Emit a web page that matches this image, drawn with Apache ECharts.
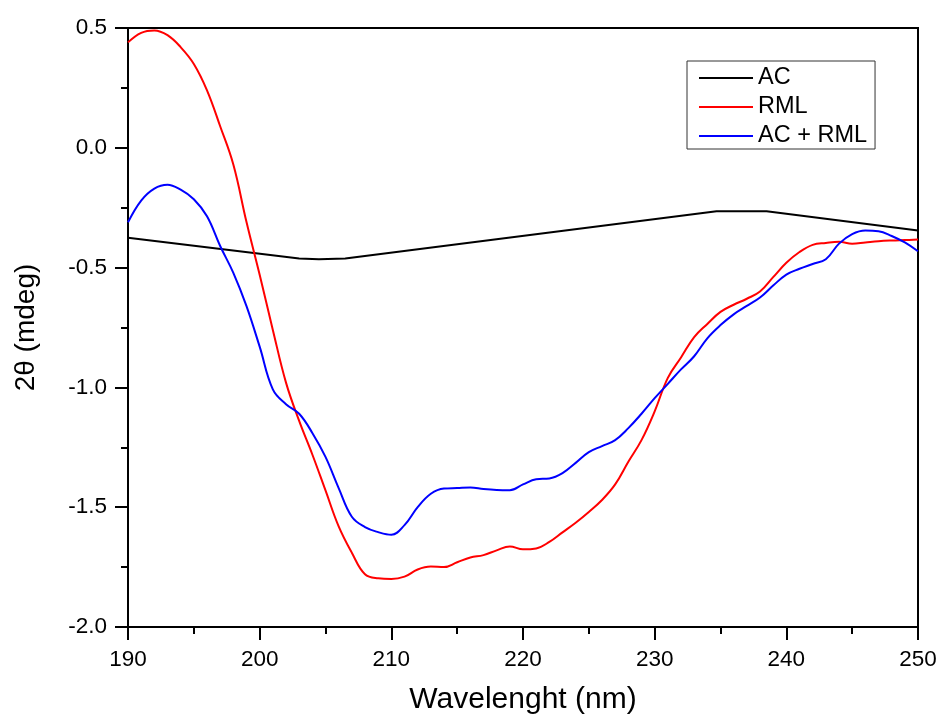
<!DOCTYPE html>
<html>
<head>
<meta charset="utf-8">
<script src="https://cdn.jsdelivr.net/npm/echarts@6/dist/echarts.min.js"></script>
<style>html,body{margin:0;padding:0;background:#fff}#c{width:940px;height:720px}</style>
</head>
<body>
<div id="c"></div>
<script>
const seriesNames = ['AC', 'RML', 'AC + RML'];
const seriesColors = ['#000000', '#ff0000', '#0000ff'];
const xTicks = [190, 200, 210, 220, 230, 240, 250];
const yTicks = [-2.0, -1.5, -1.0, -0.5, 0.0, 0.5];

// AC (piecewise, as drawn)
const acX = [190, 203, 204.5, 206.5, 234.7, 238.5, 250];
const acY = [-0.375, -0.462, -0.465, -0.462, -0.265, -0.265, -0.345];

// wavelengths 190..250 nm, 1 nm step
const wl = [190,191,192,193,194,195,196,197,198,199,200,201,202,203,204,205,206,207,208,209,210,
            211,212,213,214,215,216,217,218,219,220,221,222,223,224,225,226,227,228,229,230,
            231,232,233,234,235,236,237,238,239,240,241,242,243,244,245,246,247,248,249,250];
const rml = [0.44,0.48,0.49,0.47,0.42,0.35,0.24,0.09,-0.07,-0.31,-0.53,-0.76,-0.98,-1.14,-1.28,-1.43,-1.58,-1.69,-1.78,-1.797,-1.80,
             -1.79,-1.76,-1.748,-1.75,-1.73,-1.71,-1.70,-1.68,-1.664,-1.676,-1.672,-1.645,-1.605,-1.565,-1.52,-1.47,-1.405,-1.31,-1.22,-1.10,
             -0.96,-0.875,-0.79,-0.735,-0.685,-0.655,-0.63,-0.60,-0.54,-0.48,-0.435,-0.405,-0.397,-0.392,-0.40,-0.395,-0.39,-0.387,-0.385,-0.383];
const acRml = [-0.311,-0.22,-0.17,-0.154,-0.175,-0.215,-0.286,-0.41,-0.522,-0.661,-0.83,-1.008,-1.07,-1.11,-1.19,-1.29,-1.42,-1.54,-1.583,-1.604,-1.615,
               -1.575,-1.50,-1.444,-1.422,-1.42,-1.418,-1.424,-1.428,-1.429,-1.405,-1.383,-1.38,-1.358,-1.315,-1.27,-1.245,-1.22,-1.17,-1.11,-1.045,
               -0.985,-0.925,-0.87,-0.795,-0.74,-0.695,-0.66,-0.625,-0.575,-0.529,-0.505,-0.485,-0.465,-0.40,-0.36,-0.345,-0.348,-0.368,-0.395,-0.432];

const zip = (xs, ys) => xs.map((x, i) => [x, ys[i]]);
const font = '"Liberation Sans", Arial, sans-serif';

const chart = echarts.init(document.getElementById('c'), null, {renderer: 'canvas'});
chart.setOption({
  backgroundColor: '#ffffff',
  animation: false,
  grid: {left: 128, right: 22, top: 28, bottom: 92, show: true, borderColor: '#000', borderWidth: 2, backgroundColor: 'transparent'},
  legend: {
    orient: 'vertical', left: 687, top: 61,
    padding: [4, 8, 0, 12], itemGap: 3, itemWidth: 54, itemHeight: 2,
    icon: 'rect',
    borderColor: '#333', borderWidth: 1, borderRadius: 0,
    textStyle: {fontFamily: font, fontSize: 23.5, color: '#000', lineHeight: 26},
    data: seriesNames
  },
  xAxis: {
    type: 'value', min: xTicks[0], max: xTicks[xTicks.length - 1], interval: 10,
    name: 'Wavelenght (nm)', nameLocation: 'middle', nameGap: 58,
    nameTextStyle: {fontFamily: font, fontSize: 30, color: '#000'},
    axisLine: {show: true, onZero: false, lineStyle: {color: '#000', width: 2}},
    axisTick: {show: true, length: 13, lineStyle: {color: '#000', width: 2}},
    minorTick: {show: true, splitNumber: 2, length: 7, lineStyle: {color: '#000', width: 2}},
    splitLine: {show: false},
    axisLabel: {fontFamily: font, fontSize: 22.5, color: '#000', margin: 21}
  },
  yAxis: {
    type: 'value', min: yTicks[0], max: yTicks[yTicks.length - 1], interval: 0.5,
    name: '2θ (mdeg)', nameLocation: 'middle', nameGap: 88, nameRotate: 90,
    nameTextStyle: {fontFamily: font, fontSize: 28, color: '#000'},
    axisLine: {show: true, onZero: false, lineStyle: {color: '#000', width: 2}},
    axisTick: {show: true, length: 13, lineStyle: {color: '#000', width: 2}},
    minorTick: {show: true, splitNumber: 2, length: 7, lineStyle: {color: '#000', width: 2}},
    splitLine: {show: false},
    axisLabel: {fontFamily: font, fontSize: 22.5, color: '#000', margin: 21, formatter: v => v.toFixed(1)}
  },
  series: [
    {name: seriesNames[0], type: 'line', data: zip(acX, acY), symbol: 'none', smooth: false,
     lineStyle: {color: seriesColors[0], width: 2}, itemStyle: {color: seriesColors[0]}},
    {name: seriesNames[1], type: 'line', data: zip(wl, rml), symbol: 'none', smooth: 0.4,
     lineStyle: {color: seriesColors[1], width: 2}, itemStyle: {color: seriesColors[1]}},
    {name: seriesNames[2], type: 'line', data: zip(wl, acRml), symbol: 'none', smooth: 0.4,
     lineStyle: {color: seriesColors[2], width: 2}, itemStyle: {color: seriesColors[2]}}
  ]
});
</script>
</body>
</html>
